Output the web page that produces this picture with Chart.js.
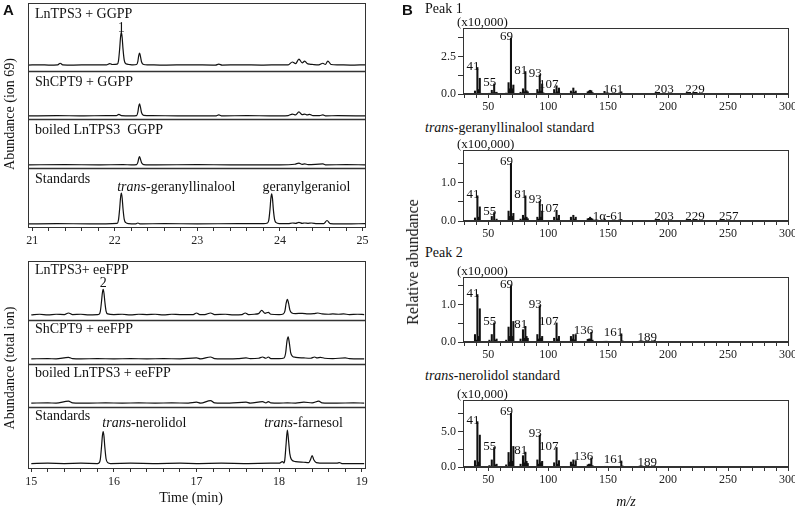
<!DOCTYPE html>
<html>
<head>
<meta charset="utf-8">
<script src="https://cdn.jsdelivr.net/npm/chart.js@4.4.1/dist/chart.umd.min.js"></script>
<style>
  html, body { margin: 0; padding: 0; background: #fff; overflow: hidden; }
  body { width: 795px; height: 507px; position: relative; font-family: 'Liberation Serif', 'Times New Roman', serif; color: #111; }
  canvas { position: absolute; }
  .lbl { position: absolute; white-space: nowrap; font-size: 14px; line-height: 1; transform: translateY(-50%); }
  .panel { font-family: 'Liberation Sans', Arial, sans-serif; font-weight: bold; font-size: 15px; }
  .rot { transform: translate(-50%, -50%) rotate(-90deg); }
</style>
</head>
<body>
<canvas id="ggppChart"></canvas>
<canvas id="fppChart"></canvas>
<canvas id="peak1Chart"></canvas>
<canvas id="geranyllinaloolChart"></canvas>
<canvas id="peak2Chart"></canvas>
<canvas id="nerolidolChart"></canvas>

<div class="lbl panel" style="left:3px;top:9px">A</div>
<div class="lbl panel" style="left:402px;top:9px">B</div>
<div class="lbl rot" style="left:10px;top:114px">Abundance (ion 69)</div>
<div class="lbl rot" style="left:10px;top:368px">Abundance (total ion)</div>
<div class="lbl" style="left:191px;top:498px;transform:translate(-50%,-50%)">Time (min)</div>
<div class="lbl" style="left:425px;top:9px">Peak 1</div>
<div class="lbl" style="left:425px;top:128px"><i>trans</i>-geranyllinalool standard</div>
<div class="lbl" style="left:425px;top:253px">Peak 2</div>
<div class="lbl" style="left:425px;top:376px"><i>trans</i>-nerolidol standard</div>
<div class="lbl rot" style="left:413px;top:262px;font-size:16px">Relative abundance</div>
<div class="lbl" style="left:626px;top:502px;transform:translate(-50%,-50%)"><i>m/z</i></div>

<script>
/**
 * GC traces (A) and mass spectra (B)
 */
const SERIF = "'Liberation Serif', 'Times New Roman', serif";

// ---- A, top: GGPP assays, ion 69 (abundance: standard peak = 100)
const lnGgppTime  = [20.95, 21.1, 21.2, 21.31, 21.34, 21.37, 21.5, 21.7, 21.9, 21.94, 21.97, 22.03, 22.045, 22.06, 22.07, 22.08, 22.09, 22.1, 22.115, 22.135, 22.17, 22.22, 22.265, 22.28, 22.29, 22.3, 22.31, 22.325, 22.35, 22.4, 22.6, 22.9, 23.22, 23.26, 23.3, 23.5, 23.8, 24.0, 24.1, 24.15, 24.19, 24.23, 24.27, 24.3, 24.33, 24.36, 24.4, 24.47, 24.52, 24.55, 24.58, 24.62, 24.7, 24.85, 25.03];
const lnGgppAbund = [0, 1, 0, 1, 6, 1, 0, 1, 1, 5, 2, 3, 13, 53, 89, 106, 89, 53, 16, 4, 2, 1, 2, 12, 30, 39, 30, 10, 2, 1, 0, 1, 0, 3, 0, 1, 0, 1, 1, 10, 5, 19, 7, 13, 5, 3, 2, 1, 6, 2, 13, 2, 1, 0, 1];

const shGgppTime  = [20.95, 21.3, 21.6, 21.9, 22.02, 22.05, 22.08, 22.2, 22.265, 22.28, 22.29, 22.3, 22.31, 22.325, 22.35, 22.45, 22.8, 23.22, 23.26, 23.3, 23.6, 23.9, 24.1, 24.15, 24.19, 24.23, 24.27, 24.3, 24.33, 24.36, 24.4, 24.48, 24.52, 24.56, 24.7, 25.03];
const shGgppAbund = [0, 1, 0, 1, 1, 5, 1, 0, 1, 12, 30, 39, 30, 10, 2, 1, 0, 0, 3, 0, 1, 0, 1, 6, 3, 13, 4, 6, 3, 5, 1, 1, 3, 0, 1, 0];

const boiledGgppTime  = [20.95, 21.4, 21.8, 22.1, 22.2, 22.265, 22.28, 22.29, 22.3, 22.31, 22.325, 22.35, 22.5, 23.0, 23.4, 24.0, 24.18, 24.23, 24.27, 24.3, 24.34, 24.52, 24.56, 24.8, 25.03];
const boiledGgppAbund = [0, 1, 0, 1, 0, 1, 8, 20, 27, 20, 7, 1, 0, 1, 0, 0, 2, 6, 2, 3, 1, 3, 0, 1, 0];

const stdGgppTime  = [20.95, 21.3, 21.7, 22.03, 22.045, 22.06, 22.07, 22.08, 22.09, 22.1, 22.115, 22.135, 22.17, 22.25, 22.28, 22.31, 22.6, 23.0, 23.5, 23.8, 23.85, 23.865, 23.88, 23.89, 23.9, 23.91, 23.92, 23.935, 23.955, 23.99, 24.1, 24.15, 24.19, 24.23, 24.27, 24.3, 24.34, 24.38, 24.45, 24.53, 24.57, 24.61, 24.8, 25.03];
const stdGgppAbund = [0, 1, 0, 2, 12, 50, 84, 100, 84, 50, 15, 4, 1, 0, 3, 0, 1, 0, 1, 1, 3, 12, 48, 82, 97, 82, 48, 15, 4, 1, 1, 3, 2, 5, 2, 3, 2, 3, 1, 1, 11, 1, 0, 1];

// ---- A, bottom: eeFPP assays, total ion (abundance: nerolidol standard = 100)
const lnFppTime  = [15.0, 15.1, 15.2, 15.3, 15.4, 15.45, 15.5, 15.6, 15.7, 15.8, 15.82, 15.835, 15.85, 15.86, 15.87, 15.88, 15.89, 15.905, 15.925, 16.0, 16.1, 16.2, 16.3, 16.4, 16.5, 16.6, 16.7, 16.8, 16.9, 16.96, 17.0, 17.04, 17.1, 17.17, 17.22, 17.35, 17.45, 17.55, 17.59, 17.63, 17.7, 17.75, 17.79, 17.83, 17.87, 17.9, 18.0, 18.05, 18.07, 18.085, 18.1, 18.115, 18.13, 18.15, 18.2, 18.28, 18.35, 18.42, 18.47, 18.52, 18.6, 18.65, 18.72, 18.78, 18.85, 18.95, 19.03];
const lnFppAbund = [0, 2, 0, 2, 1, 6, 1, 2, 0, 1, 2, 10, 42, 68, 80, 68, 42, 12, 3, 1, 2, 0, 2, 1, 2, 0, 2, 1, 1, 1, 6, 1, 1, 6, 1, 2, 0, 1, 6, 1, 2, 4, 14, 5, 8, 2, 1, 3, 12, 36, 49, 36, 16, 7, 4, 5, 3, 4, 6, 3, 2, 3, 2, 3, 1, 2, 1];

const shFppTime  = [15.0, 15.2, 15.3, 15.45, 15.5, 15.6, 15.8, 16.0, 16.2, 16.4, 16.6, 16.8, 17.0, 17.05, 17.17, 17.22, 17.4, 17.5, 17.6, 17.65, 17.75, 17.8, 17.84, 17.87, 17.9, 18.0, 18.06, 18.08, 18.095, 18.11, 18.125, 18.14, 18.16, 18.2, 18.3, 18.38, 18.43, 18.46, 18.5, 18.55, 18.65, 18.8, 18.85, 19.03];
const shFppAbund = [0, 1, 0, 5, 1, 0, 1, 0, 1, 0, 1, 0, 3, 0, 6, 1, 0, 1, 3, 1, 2, 6, 2, 6, 1, 1, 3, 20, 55, 69, 48, 20, 9, 5, 3, 2, 6, 3, 5, 2, 1, 3, 1, 0];

const boiledFppTime  = [15.0, 15.2, 15.3, 15.45, 15.5, 15.7, 15.9, 16.1, 16.3, 16.5, 16.7, 16.9, 17.0, 17.05, 17.17, 17.22, 17.4, 17.6, 17.65, 17.8, 17.84, 17.87, 17.9, 18.0, 18.1, 18.2, 18.3, 18.4, 18.48, 18.52, 18.7, 18.9, 19.03];
const boiledFppAbund = [0, 1, 0, 6, 1, 0, 1, 0, 1, 0, 1, 0, 3, 0, 8, 1, 0, 3, 0, 5, 1, 5, 1, 0, 1, 0, 3, 1, 6, 1, 0, 1, 0];

const stdFppTime  = [15.0, 15.2, 15.4, 15.6, 15.8, 15.82, 15.835, 15.85, 15.86, 15.87, 15.88, 15.89, 15.905, 15.925, 15.96, 16.2, 16.5, 16.8, 17.0, 17.3, 17.6, 17.9, 18.0, 18.04, 18.06, 18.07, 18.085, 18.1, 18.115, 18.13, 18.15, 18.2, 18.3, 18.36, 18.38, 18.4, 18.42, 18.45, 18.55, 18.7, 18.73, 18.76, 19.03];
const stdFppAbund = [0, 1, 0, 1, 0, 2, 12, 52, 85, 100, 85, 52, 15, 3, 0, 1, 0, 1, 0, 1, 0, 1, 1, 6, 2, 14, 62, 105, 70, 30, 12, 6, 4, 3, 12, 25, 12, 3, 1, 1, 3, 0, 0];

const ggppTimeLabels = [21, 22, 23, 24, 25];
const fppTimeLabels  = [15, 16, 17, 18, 19];

// ---- B: mass spectra (m/z, intensity in the unit printed above each plot)
const peak1Mz  = [39, 40, 41, 42, 43, 44, 51, 53, 54, 55, 56, 57, 65, 67, 68, 69, 70, 71, 77, 79, 80, 81, 82, 83, 91, 92, 93, 94, 95, 96, 105, 106, 107, 108, 109, 110, 119, 120, 121, 122, 123, 133, 134, 135, 136, 137, 147, 148, 161, 162, 175, 187, 189, 203, 204, 229, 272];
const peak1Int = [0.2, 0.05, 1.77, 0.3, 1.05, 0.05, 0.05, 0.25, 0.08, 0.67, 0.1, 0.12, 0.06, 0.76, 0.35, 3.74, 0.35, 0.6, 0.12, 0.35, 0.15, 1.5, 0.22, 0.15, 0.3, 0.15, 1.28, 0.2, 0.67, 0.08, 0.3, 0.08, 0.55, 0.15, 0.4, 0.05, 0.2, 0.08, 0.4, 0.12, 0.2, 0.15, 0.2, 0.25, 0.22, 0.1, 0.18, 0.05, 0.15, 0.04, 0.03, 0.02, 0.05, 0.05, 0.02, 0.03, 0.02];
const peak1LabelMz = [41, 55, 69, 81, 93, 107, 161, 203, 229];
const peak1Labels  = ['41', '55', '69', '81', '93', '107', '161', '203', '229'];

const gllMz  = [39, 41, 42, 43, 53, 55, 57, 67, 68, 69, 70, 71, 77, 79, 80, 81, 82, 83, 91, 92, 93, 94, 95, 105, 107, 108, 109, 119, 121, 122, 123, 133, 134, 135, 136, 137, 147, 161, 175, 189, 203, 229, 257, 272];
const gllInt = [0.08, 0.66, 0.1, 0.37, 0.12, 0.22, 0.05, 0.26, 0.12, 1.51, 0.12, 0.2, 0.05, 0.15, 0.08, 0.66, 0.1, 0.06, 0.1, 0.05, 0.52, 0.1, 0.26, 0.1, 0.28, 0.06, 0.15, 0.1, 0.15, 0.05, 0.1, 0.06, 0.07, 0.1, 0.07, 0.05, 0.05, 0.04, 0.01, 0.02, 0.02, 0.01, 0.01, 0.01];
const gllLabelMz = [41, 55, 69, 81, 93, 107, 161, 203, 229, 257];
const gllLabels  = ['41', '55', '69', '81', '93', '107', '1α-61', '203', '229', '257'];

const peak2Mz  = [39, 40, 41, 42, 43, 51, 53, 55, 56, 57, 65, 67, 68, 69, 70, 71, 77, 79, 80, 81, 82, 83, 91, 92, 93, 94, 95, 105, 107, 108, 109, 119, 120, 121, 122, 123, 133, 134, 135, 136, 137, 147, 148, 149, 161, 162, 179, 189];
const peak2Int = [0.2, 0.05, 1.27, 0.15, 0.89, 0.05, 0.2, 0.51, 0.05, 0.08, 0.05, 0.4, 0.15, 1.51, 0.15, 0.55, 0.08, 0.33, 0.1, 0.42, 0.15, 0.1, 0.2, 0.08, 0.97, 0.1, 0.15, 0.1, 0.51, 0.08, 0.15, 0.15, 0.08, 0.2, 0.06, 0.2, 0.07, 0.08, 0.08, 0.26, 0.05, 0.02, 0.02, 0.02, 0.22, 0.03, 0.02, 0.04];
const peak2LabelMz = [41, 55, 69, 81, 93, 107, 136, 161, 189];
const peak2Labels  = ['41', '55', '69', '81', '93', '107', '136', '161', '189'];

const nerMz  = [39, 40, 41, 42, 43, 51, 53, 55, 56, 57, 65, 67, 68, 69, 70, 71, 77, 79, 80, 81, 82, 83, 91, 92, 93, 94, 95, 105, 107, 108, 109, 119, 120, 121, 122, 123, 133, 134, 135, 136, 137, 147, 148, 149, 161, 162, 179, 189];
const nerInt = [0.9, 0.2, 6.4, 0.7, 4.5, 0.2, 1.0, 2.75, 0.3, 0.4, 0.3, 2.05, 0.7, 7.58, 0.8, 2.9, 0.4, 1.6, 0.6, 2.1, 0.8, 0.5, 1.0, 0.4, 4.5, 0.6, 0.8, 0.6, 2.75, 0.4, 0.9, 0.7, 0.4, 1.0, 0.3, 0.9, 0.3, 0.4, 0.4, 1.26, 0.2, 0.1, 0.1, 0.1, 0.85, 0.15, 0.1, 0.15];
const nerLabelMz = [41, 55, 69, 81, 93, 107, 136, 161, 189];
const nerLabels  = ['41', '55', '69', '81', '93', '107', '136', '161', '189'];

const mzTicks  = [30, 40, 50, 60, 70, 80, 90, 100, 110, 120, 130, 140, 150, 160, 170, 180, 190, 200, 210, 220, 230, 240, 250, 260, 270, 280, 290, 300];
const mzLabels = [50, 100, 150, 200, 250, 300];

/**
 * Frame: box round the plot area and lines between stacked rows
 */
const framePlugin = {
    id: 'frame',
    afterDatasetsDraw(chart, args, opts) {
        const {ctx, chartArea: a} = chart;
        const l = Math.round(a.left) + 0.5, r = Math.round(a.right) + 0.5;
        const t = Math.round(a.top) + 0.5, b = Math.round(a.bottom) + 0.5;
        ctx.save();
        ctx.strokeStyle = opts.color || '#333';
        ctx.lineWidth = 1;
        ctx.strokeRect(l, t, r - l, b - t);
        ctx.lineWidth = 1.5;
        (opts.rows || []).slice(0, -1).forEach(id => {
            const y = Math.round(chart.scales[id].bottom) + 0.5;
            ctx.beginPath();
            ctx.moveTo(l, y);
            ctx.lineTo(r, y);
            ctx.stroke();
        });
        if (opts.baseWidth) {
            ctx.lineWidth = opts.baseWidth;
            ctx.beginPath();
            ctx.moveTo(l, b - 0.5);
            ctx.lineTo(r, b - 0.5);
            ctx.stroke();
        }
        ctx.restore();
    }
};

/**
 * Notes: row names and compound names, placed through the scales
 */
const notesPlugin = {
    id: 'notes',
    afterDraw(chart, args, opts) {
        if (!opts.items) return;
        const ctx = chart.ctx;
        const area = chart.chartArea;
        ctx.save();
        ctx.fillStyle = '#111';
        ctx.textBaseline = 'middle';
        opts.items.forEach(n => {
            const ys = chart.scales[n.axis];
            let x = n.t === undefined ? area.left + 7 : chart.scales.x.getPixelForValue(n.t);
            const y = n.v === undefined ? ys.top + opts.rowOffset : ys.getPixelForValue(n.v);
            const parts = n.parts || [[n.text, false]];
            if (n.center) {
                let w = 0;
                parts.forEach(([s, it]) => { ctx.font = (it ? 'italic ' : '') + '14px ' + SERIF; w += ctx.measureText(s).width; });
                x -= w / 2;
            }
            parts.forEach(([s, it]) => {
                ctx.font = (it ? 'italic ' : '') + '14px ' + SERIF;
                ctx.fillText(s, x, y);
                x += ctx.measureText(s).width;
            });
        });
        ctx.restore();
    }
};

/**
 * Peak labels of a spectrum plus the unit note above the plot
 */
const peakLabelPlugin = {
    id: 'peakLabels',
    afterDraw(chart, args, opts) {
        const ctx = chart.ctx;
        const xs = chart.scales.x, ys = chart.scales.y;
        const zero = ys.getPixelForValue(0);
        ctx.save();
        ctx.fillStyle = '#111';
        ctx.font = '13px ' + SERIF;
        ctx.textAlign = 'right';
        ctx.textBaseline = 'alphabetic';
        opts.mz.forEach((m, i) => {
            const k = opts.allMz.indexOf(m);
            const top = ys.getPixelForValue(opts.allInt[k]);
            ctx.fillText(opts.text[i], xs.getPixelForValue(m) + 2, Math.min(top + 2, zero - 1));
        });
        ctx.textAlign = 'left';
        ctx.fillText(opts.unit, chart.chartArea.left - 6, chart.chartArea.top - 2);
        ctx.restore();
    }
};

function placeCanvas(ctx, left, top, width, height) {
    ctx.width = width;
    ctx.height = height;
    ctx.style.left = left + 'px';
    ctx.style.top = top + 'px';
    ctx.style.width = width + 'px';
    ctx.style.height = height + 'px';
}

/**
 * Stacked GC traces sharing one time axis
 */
function renderTraceChart(canvasId, canvasTop, box, traces, rows, range, timeLabels, notes, rowOffset) {
    const ctx = document.getElementById(canvasId);
    if (!ctx) return;
    const width = 380, height = box.bottom - canvasTop + 20 + box.padBottom;
    placeCanvas(ctx, 0, canvasTop, width, height);

    const timeTicks = [];
    for (let v = timeLabels[0]; v <= timeLabels[timeLabels.length - 1] + 1e-6; v += 0.2) {
        timeTicks.push(Math.round(v * 10) / 10);
    }

    const scales = {
        x: {
            type: 'linear',
            position: 'bottom',
            min: range[0],
            max: range[1],
            afterBuildTicks: s => { s.ticks = timeTicks.map(v => ({value: v})); },
            afterFit: s => { s.height = 20; },
            grid: {drawOnChartArea: false, drawTicks: true, tickLength: 4, color: '#333'},
            border: {display: false},
            ticks: {
                autoSkip: false,
                maxRotation: 0,
                padding: 3,
                color: '#222',
                font: {family: SERIF, size: 12},
                callback: v => timeLabels.includes(Math.round(v * 10) / 10) ? String(Math.round(v)) : ''
            }
        }
    };
    rows.forEach((r, i) => {
        scales[r.id] = {
            type: 'linear',
            position: 'left',
            stack: 'rows',
            stackWeight: r.weight,
            weight: rows.length - i,
            min: r.min,
            max: r.max,
            grid: {display: false, drawTicks: false},
            border: {display: false},
            ticks: {display: false}
        };
    });

    new Chart(ctx, {
        type: 'line',
        data: {
            datasets: traces.map((tr, i) => ({
                data: tr.time.map((t, k) => ({x: t, y: tr.abund[k]})),
                yAxisID: rows[i].id,
                borderColor: '#111',
                borderWidth: 1.2,
                pointRadius: 0,
                cubicInterpolationMode: 'monotone'
            }))
        },
        options: {
            responsive: false,
            animation: false,
            events: [],
            layout: {
                autoPadding: false,
                padding: {left: box.left, top: box.top - canvasTop, right: width - box.right, bottom: box.padBottom}
            },
            plugins: {
                legend: {display: false},
                tooltip: {enabled: false},
                frame: {rows: rows.map(r => r.id), color: '#333'},
                notes: {items: notes, rowOffset: rowOffset}
            },
            scales: scales
        },
        plugins: [framePlugin, notesPlugin]
    });
}

/**
 * One mass spectrum as thin bars
 */
function renderSpectrumChart(canvasId, box, mz, intensity, yMax, yStep, yLabels, labelMz, labelText, unit) {
    const ctx = document.getElementById(canvasId);
    if (!ctx) return;
    const left = 400, width = 420;
    const canvasTop = box.top - 12;
    placeCanvas(ctx, left, canvasTop, width, box.bottom - box.top + 12 + 20 + 4);

    const yTicks = [];
    for (let v = 0; v <= yMax + 1e-6; v += yStep) yTicks.push(Math.round(v * 1000) / 1000);

    new Chart(ctx, {
        type: 'bar',
        data: {
            datasets: [{
                data: mz.map((m, i) => ({x: m, y: intensity[i]})),
                backgroundColor: '#111',
                borderWidth: 0,
                barThickness: 1.4
            }]
        },
        options: {
            responsive: false,
            animation: false,
            events: [],
            layout: {
                autoPadding: false,
                padding: {left: 0, top: 12, right: left + width - box.right, bottom: 4}
            },
            plugins: {
                legend: {display: false},
                tooltip: {enabled: false},
                frame: {color: '#333', baseWidth: 2},
                peakLabels: {mz: labelMz, text: labelText, allMz: mz, allInt: intensity, unit: unit}
            },
            scales: {
                x: {
                    type: 'linear',
                    offset: false,
                    min: 29,
                    max: 300,
                    afterBuildTicks: s => { s.ticks = mzTicks.map(v => ({value: v})); },
                    afterFit: s => { s.height = 20; },
                    grid: {drawOnChartArea: false, drawTicks: true, tickLength: 4, color: '#333', offset: false},
                    border: {display: false},
                    ticks: {
                        autoSkip: false,
                        maxRotation: 0,
                        padding: 2,
                        color: '#222',
                        font: {family: SERIF, size: 12},
                        callback: v => mzLabels.includes(v) ? String(v) : ''
                    }
                },
                y: {
                    min: 0,
                    max: yMax,
                    afterBuildTicks: s => { s.ticks = yTicks.map(v => ({value: v})); },
                    afterFit: s => { s.width = box.left - left; },
                    grid: {drawOnChartArea: false, drawTicks: true, tickLength: 5, color: '#333'},
                    border: {display: false},
                    ticks: {
                        padding: 2,
                        color: '#222',
                        font: {family: SERIF, size: 12},
                        callback: v => yLabels.includes(v) ? v.toFixed(1) : ''
                    }
                }
            }
        },
        plugins: [framePlugin, peakLabelPlugin]
    });
}

// ---- Panel A
renderTraceChart('ggppChart', 0, {left: 28, right: 365, top: 3, bottom: 227, padBottom: 5},
    [
        {time: lnGgppTime, abund: lnGgppAbund},
        {time: shGgppTime, abund: shGgppAbund},
        {time: boiledGgppTime, abund: boiledGgppAbund},
        {time: stdGgppTime, abund: stdGgppAbund}
    ],
    [
        {id: 'g1', weight: 68, min: -19, max: 200},
        {id: 'g2', weight: 48, min: -10, max: 145},
        {id: 'g3', weight: 49, min: -10, max: 148},
        {id: 'g4', weight: 59, min: -10, max: 181}
    ],
    [20.95, 25.03], ggppTimeLabels,
    [
        {axis: 'g1', text: 'LnTPS3 + GGPP'},
        {axis: 'g2', text: 'ShCPT9 + GGPP'},
        {axis: 'g3', text: 'boiled LnTPS3  GGPP'},
        {axis: 'g4', text: 'Standards'},
        {axis: 'g1', t: 22.08, v: 119, text: '1', center: true},
        {axis: 'g4', t: 22.03, v: 119, parts: [['trans', true], ['-geranyllinalool', false]]},
        {axis: 'g4', t: 23.79, v: 119, text: 'geranylgeraniol'}
    ], 11.5);

renderTraceChart('fppChart', 250, {left: 28, right: 365, top: 261, bottom: 468, padBottom: 19},
    [
        {time: lnFppTime, abund: lnFppAbund},
        {time: shFppTime, abund: shFppAbund},
        {time: boiledFppTime, abund: boiledFppAbund},
        {time: stdFppTime, abund: stdFppAbund}
    ],
    [
        {id: 'f1', weight: 59, min: -16, max: 169},
        {id: 'f2', weight: 44, min: -16, max: 122},
        {id: 'f3', weight: 43, min: -12, max: 122},
        {id: 'f4', weight: 61, min: -14, max: 177}
    ],
    [14.96, 19.04], fppTimeLabels,
    [
        {axis: 'f1', text: 'LnTPS3+ eeFPP'},
        {axis: 'f2', text: 'ShCPT9 + eeFPP'},
        {axis: 'f3', text: 'boiled LnTPS3 + eeFPP'},
        {axis: 'f4', text: 'Standards'},
        {axis: 'f1', t: 15.87, v: 100, text: '2', center: true},
        {axis: 'f4', t: 15.86, v: 127, parts: [['trans', true], ['-nerolidol', false]]},
        {axis: 'f4', t: 17.82, v: 127, parts: [['trans', true], ['-farnesol', false]]}
    ], 9.5);

// ---- Panel B
renderSpectrumChart('peak1Chart', {left: 463, right: 788, top: 28, bottom: 94},
    peak1Mz, peak1Int, 4.41, 0.625, [0, 2.5], peak1LabelMz, peak1Labels, '(x10,000)');
renderSpectrumChart('geranyllinaloolChart', {left: 463, right: 788, top: 150, bottom: 221},
    gllMz, gllInt, 1.86, 0.25, [0, 1], gllLabelMz, gllLabels, '(x100,000)');
renderSpectrumChart('peak2Chart', {left: 463, right: 788, top: 277, bottom: 342},
    peak2Mz, peak2Int, 1.74, 0.25, [0, 1], peak2LabelMz, peak2Labels, '(x10,000)');
renderSpectrumChart('nerolidolChart', {left: 463, right: 788, top: 400, bottom: 467},
    nerMz, nerInt, 9.45, 1.25, [0, 5], nerLabelMz, nerLabels, '(x10,000)');
</script>
</body>
</html>
